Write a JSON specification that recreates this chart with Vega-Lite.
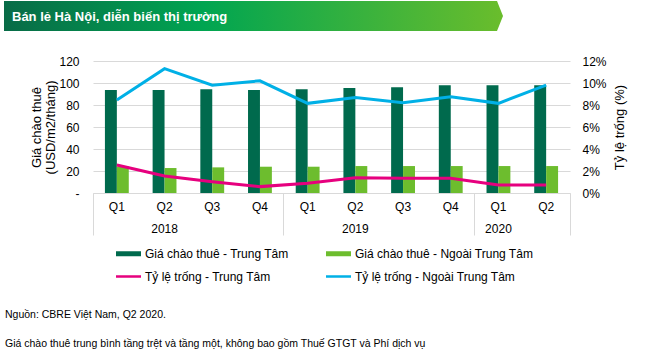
{
  "$schema": "https://vega.github.io/schema/vega-lite/v6.json",
  "padding": {"left": 4, "top": 1, "right": 5, "bottom": 5},
  "columns": 1,
  "align": "none",
  "spacing": 24,
  "config": {"font": "Liberation Sans", "view": {"stroke": null}},
  "resolve": {"scale": {"color": "independent"}, "legend": {"color": "independent"}},
  "title": {
    "text": ["Nguồn: CBRE Việt Nam, Q2 2020.", "Giá chào thuê trung bình tầng trệt và tầng một, không bao gồm Thuế GTGT và Phí dịch vụ"],
    "orient": "bottom", "anchor": "start", "frame": "bounds", "fontSize": 10.5, "fontWeight": "normal",
    "color": "#000", "lineHeight": 29, "offset": 27, "dx": 1
  },
  "concat": [
    {
      "width": 321, "height": 30,
      "data": {"values": [{"banner": "Bán lẻ Hà Nội, diễn biến thị trường"}]},
      "layer": [
        {
          "mark": {
            "type": "point", "shape": "M-1,-0.0601H0.976L1,0L0.976,0.0601H-1Z", "size": 249001,
            "filled": true, "opacity": 1, "strokeWidth": 0,
            "fill": {"gradient": "linear", "x1": 0, "x2": 1, "y1": 0, "y2": 0,
              "stops": [{"offset": 0, "color": "#086b47"}, {"offset": 0.4, "color": "#00a551"}, {"offset": 1, "color": "#6abd2c"}]}
          },
          "encoding": {}
        },
        {
          "mark": {"type": "text", "align": "left", "baseline": "alphabetic", "dx": -241.5, "dy": 5,
            "color": "#ffffff", "font": "Liberation Sans", "fontWeight": "bold", "fontSize": 13},
          "encoding": {"text": {"field": "banner"}}
        }
      ]
    },
    {
      "width": 477, "height": 132,
      "data": {"values": [
        {"period": "2018 Q1", "kind": "rent", "series": "Giá chào thuê - Trung Tâm", "value": 93.6},
        {"period": "2018 Q2", "kind": "rent", "series": "Giá chào thuê - Trung Tâm", "value": 93.6},
        {"period": "2018 Q3", "kind": "rent", "series": "Giá chào thuê - Trung Tâm", "value": 94.3},
        {"period": "2018 Q4", "kind": "rent", "series": "Giá chào thuê - Trung Tâm", "value": 93.6},
        {"period": "2019 Q1", "kind": "rent", "series": "Giá chào thuê - Trung Tâm", "value": 94.3},
        {"period": "2019 Q2", "kind": "rent", "series": "Giá chào thuê - Trung Tâm", "value": 95.5},
        {"period": "2019 Q3", "kind": "rent", "series": "Giá chào thuê - Trung Tâm", "value": 96.1},
        {"period": "2019 Q4", "kind": "rent", "series": "Giá chào thuê - Trung Tâm", "value": 97.9},
        {"period": "2020 Q1", "kind": "rent", "series": "Giá chào thuê - Trung Tâm", "value": 97.9},
        {"period": "2020 Q2", "kind": "rent", "series": "Giá chào thuê - Trung Tâm", "value": 97.9},
        {"period": "2018 Q1", "kind": "rent", "series": "Giá chào thuê - Ngoài Trung Tâm", "value": 24.0},
        {"period": "2018 Q2", "kind": "rent", "series": "Giá chào thuê - Ngoài Trung Tâm", "value": 22.7},
        {"period": "2018 Q3", "kind": "rent", "series": "Giá chào thuê - Ngoài Trung Tâm", "value": 23.3},
        {"period": "2018 Q4", "kind": "rent", "series": "Giá chào thuê - Ngoài Trung Tâm", "value": 23.9},
        {"period": "2019 Q1", "kind": "rent", "series": "Giá chào thuê - Ngoài Trung Tâm", "value": 23.9},
        {"period": "2019 Q2", "kind": "rent", "series": "Giá chào thuê - Ngoài Trung Tâm", "value": 24.5},
        {"period": "2019 Q3", "kind": "rent", "series": "Giá chào thuê - Ngoài Trung Tâm", "value": 24.5},
        {"period": "2019 Q4", "kind": "rent", "series": "Giá chào thuê - Ngoài Trung Tâm", "value": 24.5},
        {"period": "2020 Q1", "kind": "rent", "series": "Giá chào thuê - Ngoài Trung Tâm", "value": 24.5},
        {"period": "2020 Q2", "kind": "rent", "series": "Giá chào thuê - Ngoài Trung Tâm", "value": 24.5},
        {"period": "2018 Q1", "kind": "vacancy", "series": "Tỷ lệ trống - Trung Tâm", "value": 0.0255},
        {"period": "2018 Q2", "kind": "vacancy", "series": "Tỷ lệ trống - Trung Tâm", "value": 0.0155},
        {"period": "2018 Q3", "kind": "vacancy", "series": "Tỷ lệ trống - Trung Tâm", "value": 0.0103},
        {"period": "2018 Q4", "kind": "vacancy", "series": "Tỷ lệ trống - Trung Tâm", "value": 0.0058},
        {"period": "2019 Q1", "kind": "vacancy", "series": "Tỷ lệ trống - Trung Tâm", "value": 0.0088},
        {"period": "2019 Q2", "kind": "vacancy", "series": "Tỷ lệ trống - Trung Tâm", "value": 0.0139},
        {"period": "2019 Q3", "kind": "vacancy", "series": "Tỷ lệ trống - Trung Tâm", "value": 0.0133},
        {"period": "2019 Q4", "kind": "vacancy", "series": "Tỷ lệ trống - Trung Tâm", "value": 0.0133},
        {"period": "2020 Q1", "kind": "vacancy", "series": "Tỷ lệ trống - Trung Tâm", "value": 0.0073},
        {"period": "2020 Q2", "kind": "vacancy", "series": "Tỷ lệ trống - Trung Tâm", "value": 0.0073},
        {"period": "2018 Q1", "kind": "vacancy", "series": "Tỷ lệ trống - Ngoài Trung Tâm", "value": 0.0845},
        {"period": "2018 Q2", "kind": "vacancy", "series": "Tỷ lệ trống - Ngoài Trung Tâm", "value": 0.113},
        {"period": "2018 Q3", "kind": "vacancy", "series": "Tỷ lệ trống - Ngoài Trung Tâm", "value": 0.098},
        {"period": "2018 Q4", "kind": "vacancy", "series": "Tỷ lệ trống - Ngoài Trung Tâm", "value": 0.102},
        {"period": "2019 Q1", "kind": "vacancy", "series": "Tỷ lệ trống - Ngoài Trung Tâm", "value": 0.0815},
        {"period": "2019 Q2", "kind": "vacancy", "series": "Tỷ lệ trống - Ngoài Trung Tâm", "value": 0.0867},
        {"period": "2019 Q3", "kind": "vacancy", "series": "Tỷ lệ trống - Ngoài Trung Tâm", "value": 0.082},
        {"period": "2019 Q4", "kind": "vacancy", "series": "Tỷ lệ trống - Ngoài Trung Tâm", "value": 0.0876},
        {"period": "2020 Q1", "kind": "vacancy", "series": "Tỷ lệ trống - Ngoài Trung Tâm", "value": 0.0815},
        {"period": "2020 Q2", "kind": "vacancy", "series": "Tỷ lệ trống - Ngoài Trung Tâm", "value": 0.098}
      ]},
      "layer": [
        {
          "transform": [{"filter": "datum.kind == 'rent'"}],
          "mark": {"type": "bar"},
          "encoding": {
            "x": {"field": "period", "type": "nominal", "scale": {"paddingInner": 0, "paddingOuter": 0},
              "axis": {"orient": "bottom", "title": null, "labelExpr": "slice(datum.label, 5)", "labelAngle": 0, "ticks": false,
                "domain": true, "domainColor": "#d9d9d9", "labelPadding": 8, "labelFontSize": 12,
                "labelColor": "#000", "grid": false}},
            "xOffset": {"field": "series", "type": "nominal",
              "scale": {"domain": ["Giá chào thuê - Trung Tâm", "Giá chào thuê - Ngoài Trung Tâm"], "paddingInner": 0, "paddingOuter": 1.17}},
            "y": {"field": "value", "type": "quantitative", "scale": {"domain": [0, 120], "nice": false},
              "axis": {"title": ["Giá chào thuê", "(USD/m2/tháng)"], "titleX": -57, "titleY": 66, "titleAngle": 270,
                "titleAlign": "center", "titleBaseline": "middle", "titleFontSize": 13, "titleFontWeight": "normal",
                "titleLineHeight": 14, "titleColor": "#000",
                "values": [0, 20, 40, 60, 80, 100, 120], "labelExpr": "datum.value == 0 ? '-' : datum.label",
                "labelFontSize": 12, "labelColor": "#000", "labelPadding": 14, "ticks": false, "domain": false,
                "grid": true, "gridColor": "#d9d9d9", "minExtent": 89}},
            "color": {"field": "series", "type": "nominal",
              "scale": {"domain": ["Giá chào thuê - Trung Tâm", "Tỷ lệ trống - Trung Tâm", "Giá chào thuê - Ngoài Trung Tâm", "Tỷ lệ trống - Ngoài Trung Tâm"],
                "range": ["#006a4d", "#e6007e", "#6dbd2e", "#00b0e6"]},
              "legend": {"title": null, "orient": "none", "legendX": 29, "legendY": 186, "columns": 2,
                "symbolType": "M-2,-0.4H2V0.4H-2Z", "symbolSize": 156.25, "symbolStrokeWidth": 0,
                "labelFontSize": 12, "labelColor": "#000", "labelOffset": 10, "columnPadding": 37, "rowPadding": 10,
                "padding": 0, "labelLimit": 300,
                "encode": {"symbols": {"update": {
                  "shape": {"signal": "indexof(datum.value, 'Giá') == 0 ? 'M-2,-0.4H2V0.4H-2Z' : 'M-2,-0.2H2V0.2H-2Z'"},
                  "fill": {"scale": "color", "field": "value"},
                  "stroke": {"value": "transparent"},
                  "opacity": {"value": 1}}}}}}
          }
        },
        {
          "transform": [{"filter": "datum.kind == 'vacancy'"}],
          "mark": {"type": "line", "strokeWidth": 3},
          "encoding": {
            "x": {"field": "period", "type": "nominal",
              "axis": {"orient": "bottom", "title": null,
                "values": ["2018 Q1", "2018 Q2", "2018 Q4", "2019 Q2", "2019 Q4", "2020 Q1", "2020 Q2"],
                "bandPosition": 1, "tickExtra": true, "ticks": true, "tickSize": 42, "tickColor": "#d9d9d9",
                "tickOpacity": {"condition": {"test": "datum.value == '2018 Q1' || datum.value == '2018 Q2' || datum.value == '2019 Q2' || datum.value == '2020 Q1'", "value": 0}, "value": 1},
                "labelExpr": "(datum.value == '2018 Q2' || datum.value == '2019 Q2' || datum.value == '2020 Q1') ? slice(datum.value, 0, 4) : ''",
                "labelPadding": -12, "labelAngle": 0, "labelOverlap": false, "domain": false, "grid": false,
                "labelFontSize": 12, "labelColor": "#000"}},
            "y": {"field": "value", "type": "quantitative", "scale": {"domain": [0, 0.12], "nice": false},
              "axis": {"orient": "right", "title": "Tỷ lệ trống (%)", "titleX": 49, "titleY": 66, "titleAngle": 270,
                "titleAlign": "center", "titleBaseline": "middle", "titleFontSize": 13, "titleFontWeight": "normal",
                "titleColor": "#000", "format": ".0%", "values": [0, 0.02, 0.04, 0.06, 0.08, 0.1, 0.12],
                "labelPadding": 12, "ticks": false, "domain": false, "grid": false, "labelFontSize": 12, "labelColor": "#000"}},
            "color": {"field": "series", "type": "nominal"}
          }
        }
      ],
      "resolve": {"scale": {"y": "independent"}, "axis": {"x": "independent"}}
    }
  ]
}
